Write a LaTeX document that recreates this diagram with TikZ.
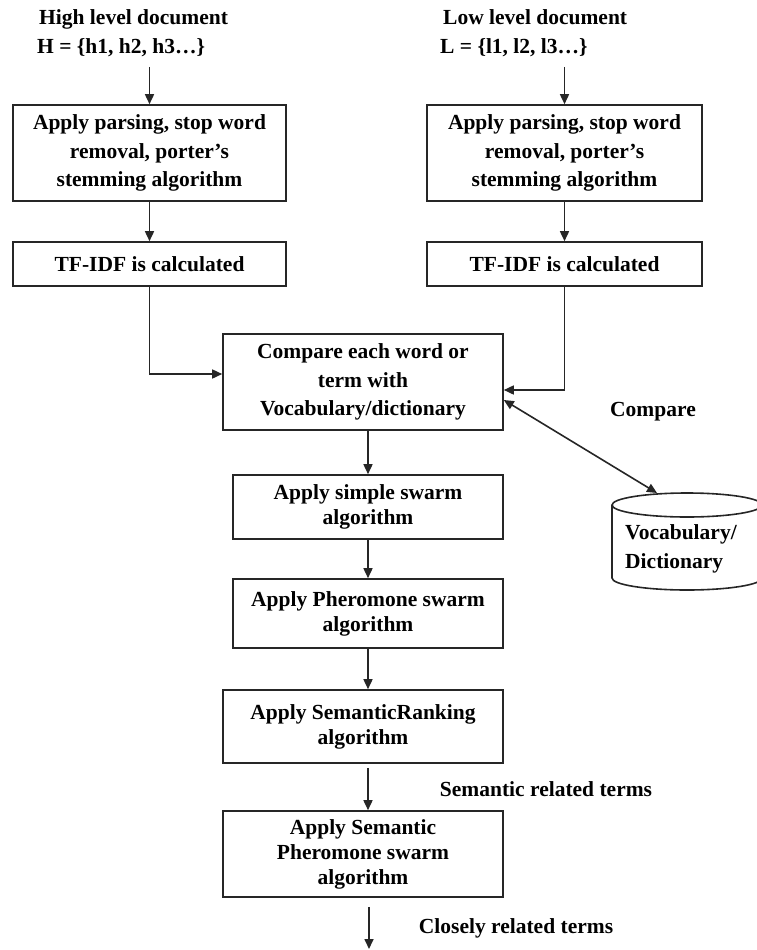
\documentclass[tikz,border=0pt]{standalone}
\usepackage{fontspec}
\setmainfont{Liberation Serif}
\usetikzlibrary{arrows.meta}
\newcommand\mytxtfont{\bfseries\fontsize{21.5}{28.5}\selectfont}
\newcommand\mytightfont{\bfseries\fontsize{21.5}{25}\selectfont}
\begin{document}
\begin{tikzpicture}[x=1pt,y=1pt,
  box/.style={draw=black!85, line width=1.6pt, align=center, inner sep=2pt, font=\mytxtfont},
  tightbox/.style={box, font=\mytightfont},
  lbl/.style={inner sep=0pt, font=\mytxtfont, text=black},
  arr/.style={-{Triangle[length=10pt,width=9pt]}, line width=1.6pt, draw=black!85},
  arrtwo/.style={{Triangle[length=10pt,width=9pt]}-{Triangle[length=10pt,width=9pt]}, line width=1.6pt, draw=black!85},
  cyl/.style={draw=black!85, line width=1.6pt}]
\useasboundingbox (0,0) rectangle (757,-950);

% headers
\node[lbl, anchor=base west] (hH1) at (39,-25) {High level document};
\node[lbl, anchor=base west] (hH2) at (37,-54) {H = \{h1, h2, h3…\}};
\node[lbl, anchor=base west] (hL1) at (443,-25) {Low level document};
\node[lbl, anchor=base west] (hL2) at (440,-54) {L = \{l1, l2, l3…\}};

% left column
\node[box, minimum width=273pt, minimum height=96pt] (parseH) at (149.5,-153) {Apply parsing, stop word\\removal, porter’s\\stemming algorithm};
\node[box, minimum width=273pt, minimum height=44pt] (tfH) at (149.5,-264) {TF-IDF is calculated};
% right column
\node[box, minimum width=275pt, minimum height=96pt] (parseL) at (564.5,-153) {Apply parsing, stop word\\removal, porter’s\\stemming algorithm};
\node[box, minimum width=275pt, minimum height=44pt] (tfL) at (564.5,-264) {TF-IDF is calculated};

% central column
\node[box, minimum width=280pt, minimum height=96pt] (compare) at (363,-382) {\vphantom{X}Compare each word or\\term with\\Vocabulary/dictionary};
\node[tightbox, minimum width=270pt, minimum height=64pt] (simple) at (368,-507) {Apply simple swarm\\algorithm};
\node[tightbox, minimum width=270pt, minimum height=69pt] (phero) at (368,-613.5) {Apply Pheromone swarm\\algorithm};
\node[tightbox, minimum width=280pt, minimum height=73pt] (rank) at (363,-726.5) {Apply SemanticRanking\\algorithm};
\node[tightbox, minimum width=280pt, minimum height=86pt] (sem) at (363,-854) {Apply Semantic\\Pheromone swarm\\algorithm};

% database cylinder
\draw[cyl] (687,-505) ellipse [x radius=75pt, y radius=12pt];
\draw[cyl] (612,-505) -- (612,-578) arc[start angle=180, end angle=360, x radius=75pt, y radius=12pt] -- (762,-505);
\node[lbl, align=left, anchor=west] (vocab) at (625,-549) {Vocabulary/\\Dictionary};
\coordinate (dbtop) at (657,-493);

% labels
\node[lbl] (cmplbl) at (653,-412) {Compare};
\node[lbl] (semlbl) at (546,-789) {Semantic related terms};
\node[lbl] (closelbl) at (516,-928) {Closely related terms};
\coordinate (out) at (369,-949);

% connectors
\draw[arr] ([yshift=-13pt]hH2.base -| parseH.north) -- (parseH.north);
\draw[arr] ([yshift=-13pt]hL2.base -| parseL.north) -- (parseL.north);
\draw[arr] (parseH.south) -- (tfH.north);
\draw[arr] (parseL.south) -- (tfL.north);
\draw[arr] (tfH.south) |- ([yshift=8pt]compare.west);
\draw[arr] (tfL.south) |- ([yshift=-8pt]compare.east);
\draw[arrtwo] ([yshift=-18pt]compare.east) -- (dbtop);
\draw[arr] (simple.north |- compare.south) -- (simple.north);
\draw[arr] (simple.south) -- (phero.north);
\draw[arr] (phero.south) -- (phero.south |- rank.north);
\draw[arr] ([yshift=-4pt]rank.south -| phero.south) -- (phero.south |- sem.north);
\draw[arr] ([yshift=-9pt]sem.south -| out) -- (out);
\end{tikzpicture}
\end{document}
